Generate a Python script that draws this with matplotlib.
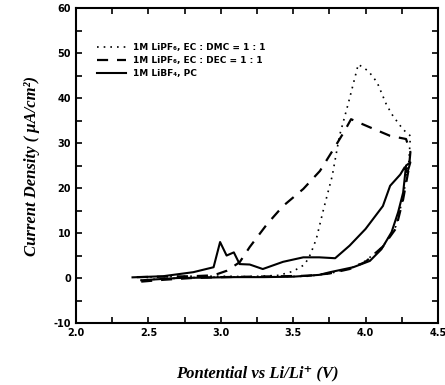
import matplotlib.pyplot as plt
from matplotlib.ticker import MultipleLocator, FormatStrFormatter

plt.rcParams['axes.unicode_minus'] = False

# 1M LiPF6, EC:DMC = 1:1 (dotted)
dmc_x = [2.42, 2.6, 2.8, 3.0, 3.2, 3.4, 3.5, 3.58, 3.62, 3.66, 3.71, 3.77, 3.82, 3.88, 3.95,
         4.02, 4.08, 4.145, 4.19, 4.26, 4.31, 4.3, 4.26, 4.21, 4.12, 4.0, 3.9, 3.75, 3.6,
         3.4, 3.2, 3.0, 2.8, 2.6, 2.45]
dmc_y = [0.2, 0.3, 0.4, 0.4, 0.3, 0.6, 1.5, 3.0, 5.3, 8.7, 15.3, 22.7, 31.6, 38.7, 47.5,
         46.0, 43.5, 38.5, 36.0, 33.0, 31.6, 26.0, 18.0, 11.5, 7.0, 3.8, 2.2, 1.0, 0.4,
         0.3, 0.2, 0.2, 0.1, -0.2, -0.4]

# 1M LiPF6, EC:DEC = 1:1 (dashed)
dec_x = [2.42, 2.6, 2.8, 2.95, 3.04, 3.13, 3.2, 3.32, 3.43, 3.57, 3.685, 3.78, 3.85, 3.9,
         4.03, 4.17, 4.28, 4.31, 4.3, 4.26, 4.21, 4.12, 4.0, 3.89, 3.75, 3.6, 3.43, 3.2,
         3.0, 2.8, 2.6, 2.45]
dec_y = [0.2, 0.3, 0.4, 0.6, 1.6, 3.5, 6.9, 12.0, 16.0, 19.8, 23.8, 28.7, 32.4, 35.3,
         33.5, 31.6, 30.9, 28.0, 24.5, 17.5, 11.0, 7.0, 3.6, 2.0, 1.0, 0.5, 0.4, 0.3,
         0.2, 0.0, -0.4, -0.8]

# 1M LiBF4, PC (solid)
bf4_x = [2.39, 2.6, 2.81, 2.95, 2.995, 3.04, 3.09, 3.13, 3.2, 3.29, 3.43, 3.57, 3.68,
         3.79, 3.89, 4.0, 4.12, 4.17, 4.24, 4.27, 4.29, 4.31, 4.28, 4.26, 4.225, 4.18,
         4.11, 4.03, 3.915, 3.755, 3.68, 3.5, 3.3, 3.1, 2.9, 2.7, 2.45]
bf4_y = [0.15, 0.4, 1.3, 2.4, 8.0, 5.0, 5.7, 3.1, 3.0, 2.0, 3.6, 4.6, 4.6, 4.4, 7.2,
         10.9, 16.0, 20.5, 23.0, 24.6, 23.5, 25.7, 25.0, 19.0, 14.6, 10.2, 6.4, 3.8,
         2.4, 1.3, 0.7, 0.3, 0.2, 0.2, 0.1, 0.0, -0.5]

labels = ['1M LiPF₆, EC : DMC = 1 : 1',
          '1M LiPF₆, EC : DEC = 1 : 1',
          '1M LiBF₄, PC']

fig = plt.figure(figsize=(4.45, 3.85), dpi=100)
ax = fig.add_axes([0.171, 0.161, 0.813, 0.818])

ax.plot(dmc_x, dmc_y, color='black', linestyle=(0, (1, 3)), linewidth=1.2, label=labels[0])
ax.plot(dec_x, dec_y, color='black', linestyle=(0, (5, 4)), linewidth=1.6, label=labels[1])
ax.plot(bf4_x, bf4_y, color='black', linestyle='-', linewidth=1.5, label=labels[2])

ax.set_xlim(2.0, 4.5)
ax.set_ylim(-10, 60)
ax.xaxis.set_major_locator(MultipleLocator(0.5))
ax.xaxis.set_minor_locator(MultipleLocator(0.25))
ax.yaxis.set_major_locator(MultipleLocator(10))
ax.yaxis.set_minor_locator(MultipleLocator(5))
ax.xaxis.set_major_formatter(FormatStrFormatter('%.1f'))
ax.tick_params(which='both', direction='in', top=True, right=True, width=1.2,
               labelsize=7, length=4)
for lbl in ax.get_xticklabels() + ax.get_yticklabels():
    lbl.set_fontweight('bold')
for sp in ax.spines.values():
    sp.set_linewidth(1.5)

serif = ['Liberation Serif', 'DejaVu Serif']
ax.set_xlabel('Pontential vs Li/Li⁺ (V)', fontfamily=serif,
              fontstyle='italic', fontweight='bold', fontsize=12, labelpad=20)
ax.set_ylabel('Current Density ( μA/cm²)', fontfamily=serif,
              fontstyle='italic', fontweight='bold', fontsize=12, labelpad=10)

leg = ax.legend(loc='upper left', bbox_to_anchor=(0.035, 0.915), frameon=False,
                prop={'size': 6.5, 'weight': 'bold'}, handlelength=3.2,
                labelspacing=0.45)

fig.savefig('out.png', dpi=100)
